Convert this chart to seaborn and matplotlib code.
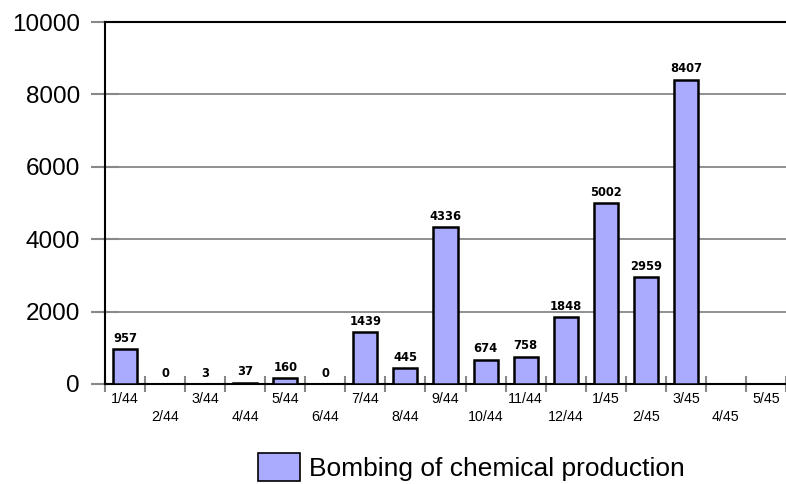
import pandas as pd
import matplotlib
matplotlib.use("Agg")
import matplotlib.pyplot as plt
import seaborn as sns
from matplotlib.patches import Patch

# monthly data, tons of bombs on chemical production
months = ["1/44", "2/44", "3/44", "4/44", "5/44", "6/44", "7/44", "8/44", "9/44",
          "10/44", "11/44", "12/44", "1/45", "2/45", "3/45", "4/45", "5/45"]
bar_months = months[:15]
tonnage = [957, 0, 3, 37, 160, 0, 1439, 445, 4336, 674, 758, 1848, 5002, 2959, 8407]
y_ticks = [0, 2000, 4000, 6000, 8000, 10000]
legend_label = "Bombing of chemical production"

sns.set_style("white")
plt.rcParams["font.family"] = ["Liberation Sans", "DejaVu Sans"]
plt.rcParams["text.color"] = "black"
plt.rcParams["xtick.color"] = "black"
plt.rcParams["ytick.color"] = "black"

df = pd.DataFrame({"month": bar_months, "tons": tonnage})

fig = plt.figure(figsize=(7.86, 4.84), dpi=100)
ax = fig.add_axes([105 / 786, 1 - 384 / 484, 1 - 105 / 786, (384 - 22) / 484])

sns.barplot(data=df, x="month", y="tons", order=months, color="#aaaaff",
            saturation=1, edgecolor="black", linewidth=1.8, width=0.6, ax=ax)
for bar in ax.patches:
    bar.set_facecolor("#aaaaff")
    bar.set_zorder(3)

ax.bar_label(ax.containers[0], fmt="%d", padding=3, fontsize=8.3,
             fontweight="bold", family="DejaVu Sans", color="black")

ax.set_xlim(-0.5, len(months) - 0.5)
ax.set_ylim(0, 10000)
ax.set_yticks(y_ticks)
ax.set_yticklabels([str(v) for v in y_ticks], fontsize=17.5)
ax.yaxis.grid(True, color="#888888", linewidth=1.3)
ax.set_axisbelow(True)

# separators between months as major ticks, labels on minor ticks
ax.set_xticks([i - 0.5 for i in range(len(months) + 1)])
ax.set_xticklabels([])
ax.set_xticks(range(len(months)), minor=True)
ax.set_xticklabels([m if i % 2 == 0 else "\n" + m for i, m in enumerate(months)],
                   minor=True, fontsize=10.3, va="top", linespacing=1.35)
ax.tick_params(axis="x", which="major", bottom=True, direction="inout",
               length=12, width=1.5, color="#888888")
ax.tick_params(axis="x", which="minor", bottom=True, length=0, pad=6)
ax.tick_params(axis="y", left=True, direction="inout", length=20, width=1.5,
               color="#888888", pad=8)

ax.set_xlabel("")
ax.set_ylabel("")
for side in ["left", "bottom", "top"]:
    ax.spines[side].set_visible(True)
    ax.spines[side].set_color("black")
    ax.spines[side].set_linewidth(1.5)
ax.spines["right"].set_visible(False)

handle = Patch(facecolor="#aaaaff", edgecolor="black", linewidth=1.2)
fig.legend([handle], [legend_label], loc="lower left",
           bbox_to_anchor=(247 / 786, -0.015), frameon=False, fontsize=19,
           handlelength=1.6, handleheight=1.25, handletextpad=0.35,
           borderaxespad=0.0)

fig.savefig("out.png", dpi=100)
